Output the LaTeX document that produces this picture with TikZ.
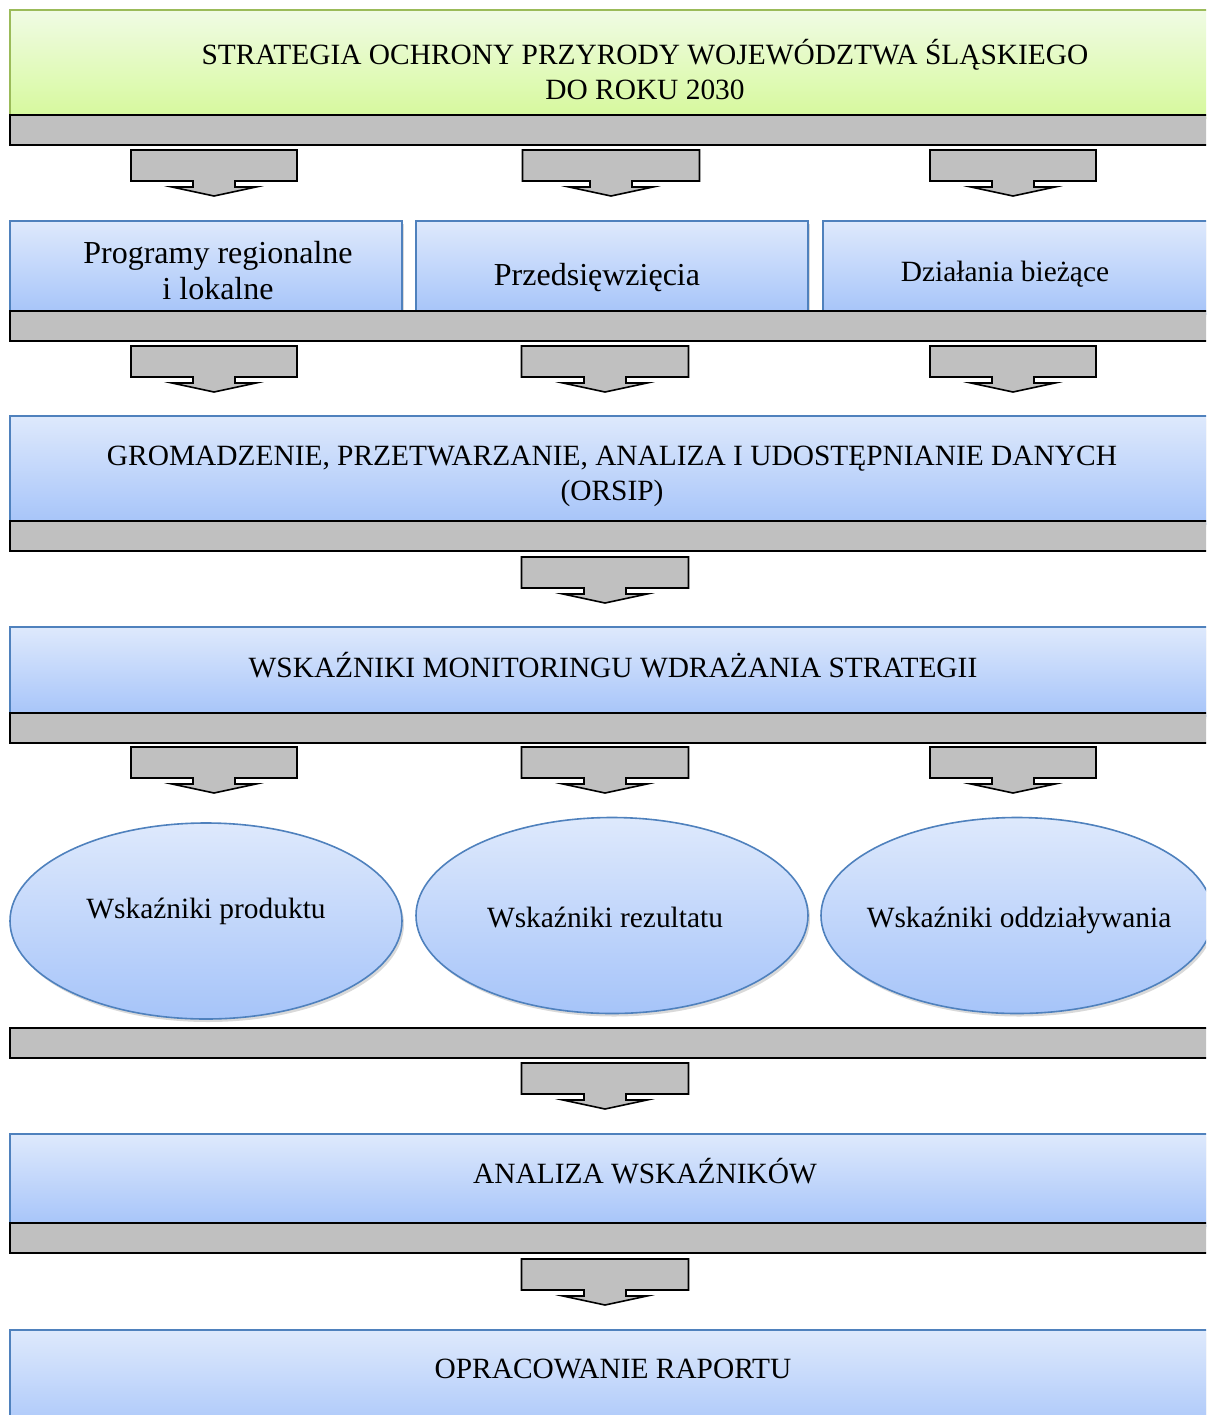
\documentclass[tikz,border=0pt]{standalone}
\usepackage{fontspec}
\setmainfont{Liberation Serif}
\usetikzlibrary{shapes.geometric, shadows}
\definecolor{topGreen}{RGB}{240,251,228}
\definecolor{botGreen}{RGB}{214,249,156}
\definecolor{lineGreen}{RGB}{155,187,89}
\definecolor{topBlue}{RGB}{222,233,252}
\definecolor{botBlue}{RGB}{166,196,249}
\definecolor{lineBlue}{RGB}{79,129,189}
\definecolor{barGray}{RGB}{192,192,192}

\begin{document}
\begin{tikzpicture}[
    x=0.5pt, y=-0.5pt,
    greenbox/.style={draw=lineGreen, line width=0.8pt, top color=topGreen, bottom color=botGreen, inner sep=0pt, outer sep=0pt},
    bluebox/.style={draw=lineBlue, line width=0.8pt, top color=topBlue, bottom color=botBlue, inner sep=0pt, outer sep=0pt,
      drop shadow={opacity=0.3, shadow xshift=1pt, shadow yshift=-1.5pt}},
    blueoval/.style={bluebox, ellipse, minimum width=196pt, minimum height=98pt},
    bar/.style={draw=black, line width=0.8pt, fill=barGray},
    txt/.style={font=\fontsize{14.7}{17.5}\selectfont, align=center},
    bigtxt/.style={font=\fontsize{16}{18}\selectfont, align=center}
  ]
    \newcommand{\blockarrow}[3]{% centre x, top y, width
      \draw[bar] ({#1-#3/2},#2) -- ++(#3,0) -- ++(0,31) -- ({#1+21},{#2+31})
        -- ({#1+21},{#2+37}) -- ({#1+42},{#2+37}) -- (#1,{#2+46}) -- ({#1-42},{#2+37})
        -- ({#1-21},{#2+37}) -- ({#1-21},{#2+31}) -- ({#1-#3/2},{#2+31}) -- cycle;
    }

    \useasboundingbox (0,0) rectangle (1206,1415);
    \clip (0,0) rectangle (1206,1415);

    % boxes
    \node[greenbox, minimum width=605pt, minimum height=54pt] (strat) at (615,64) {};
    \node[bluebox, minimum width=196pt, minimum height=46.5pt] (prog) at (206,267.5) {};
    \node[bluebox, minimum width=196pt, minimum height=46.5pt] (przed) at (612,267.5) {};
    \node[bluebox, minimum width=198.5pt, minimum height=46.5pt] (dzial) at (1021.5,267.5) {};
    \node[bluebox, minimum width=605pt, minimum height=54pt] (gromadz) at (615,470) {};
    \node[bluebox, minimum width=605pt, minimum height=44.5pt] (wskaz) at (615,671.5) {};
    \node[blueoval] (produkt) at (206,921) {};
    \node[blueoval] (rezultat) at (612,915.5) {};
    \node[blueoval] (oddz) at (1017,915.5) {};
    \node[bluebox, minimum width=605pt, minimum height=46pt] (analiza) at (615,1180) {};
    \node[bluebox, minimum width=605pt, minimum height=55pt] (oprac) at (615,1385) {};

    % bars
    \foreach \y in {115,311,521,713,1028,1223}
      \draw[bar] (10,\y) rectangle (1220,\y+30);

    % arrows
    \blockarrow{214}{150}{166}
    \blockarrow{611}{150}{177}
    \blockarrow{1013}{150}{166}
    \blockarrow{214}{346}{166}
    \blockarrow{605}{346}{167}
    \blockarrow{1013}{346}{166}
    \blockarrow{605}{557}{167}
    \blockarrow{214}{747}{166}
    \blockarrow{605}{747}{167}
    \blockarrow{1013}{747}{166}
    \blockarrow{605}{1063}{167}
    \blockarrow{605}{1259}{167}

    % texts
    \node[txt] (strat-t) at (645,70) {STRATEGIA OCHRONY PRZYRODY WOJEWÓDZTWA ŚLĄSKIEGO\\DO ROKU 2030};
    \node[bigtxt] (prog-t) at (218,271) {Programy regionalne\\i lokalne};
    \node[bigtxt] (przed-t) at (597,278) {Przedsięwzięcia};
    \node[txt] (dzial-t) at (1005,274) {Działania bieżące};
    \node[txt] (gromadz-t) at (612,476) {GROMADZENIE, PRZETWARZANIE, ANALIZA I UDOSTĘPNIANIE DANYCH\\(ORSIP)};
    \node[txt] (wskaz-t) at (613,665) {WSKAŹNIKI MONITORINGU WDRAŻANIA STRATEGII};
    \node[txt] (produkt-t) at (206,911) {Wskaźniki produktu};
    \node[txt] (rezultat-t) at (605,917) {Wskaźniki rezultatu};
    \node[txt] (oddz-t) at (1019,920) {Wskaźniki oddziaływania};
    \node[txt] (analiza-t) at (645,1171) {ANALIZA WSKAŹNIKÓW};
    \node[txt] (oprac-t) at (613,1369) {OPRACOWANIE RAPORTU};
  \end{tikzpicture}
\end{document}
